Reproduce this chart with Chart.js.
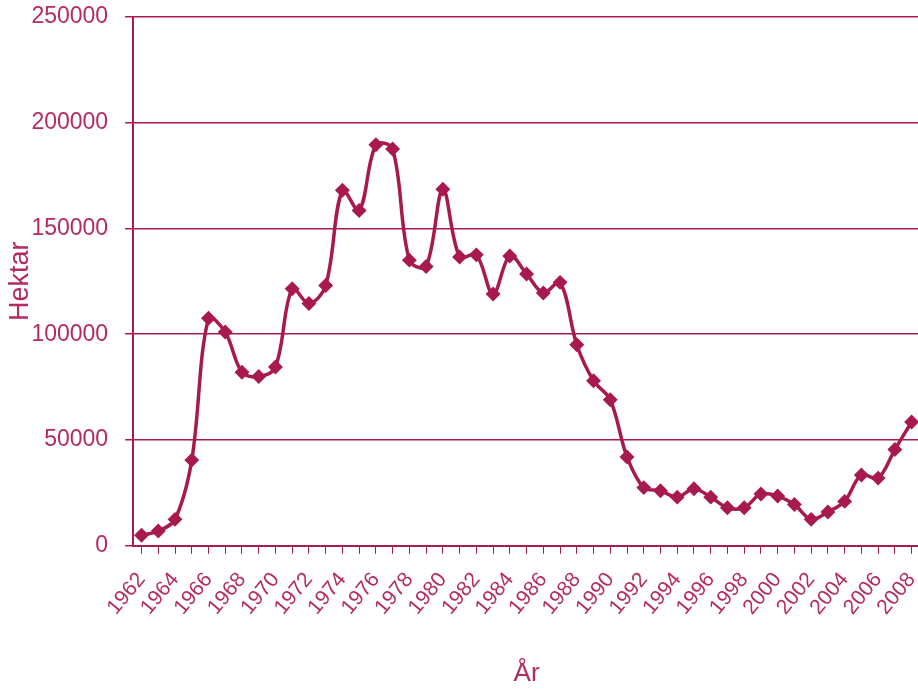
<!DOCTYPE html>
<html>
<head>
<meta charset="utf-8">
<script src="https://cdn.jsdelivr.net/npm/chart.js@4"></script>
<style>
    body { margin: 0; background: #fff; overflow: hidden; }
    #wrap { position: absolute; left: 0; top: -14px; width: 945px; height: 703px; }
</style>
</head>
<body>
<div id="wrap"><canvas id="chart-areal"></canvas></div>
<script>
//--------------------------- data ---------------------------
var years = [];
for (var y = 1962; y <= 2008; y++) years.push(String(y));

var hektar = [5000, 7000, 12500, 40500, 107500, 101000, 82000, 80000, 84500, 121500,
    114500, 123000, 168000, 158500, 189500, 187500, 135000, 132000, 168500, 136500,
    137500, 119000, 137000, 128500, 119500, 124500, 95000, 78000, 69000, 42000,
    27500, 26000, 23000, 27000, 23000, 18000, 18000, 24500, 23500, 19500,
    12500, 16000, 21000, 33500, 32000, 45500, 58500];

var yTicks = [0, 50000, 100000, 150000, 200000, 250000];

//--------------------------- chart ---------------------------
var lineColor = '#a81a4f';
var textColor = '#b42a62';

var ctx = document.getElementById('chart-areal').getContext('2d');
var chart_areal = new Chart(ctx, {
    type: 'line',
    data: {
        labels: years,
        datasets: [{
            label: 'Hektar',
            data: hektar,
            borderColor: lineColor,
            backgroundColor: lineColor,
            borderWidth: 3.5,
            tension: 0.35,
            pointStyle: 'rectRot',
            pointRadius: 5,
            fill: false
        }]
    },
    options: {
        responsive: true,
        maintainAspectRatio: false,
        animation: false,
        layout: { padding: { left: 2, top: -16, right: 0, bottom: 0 } },
        plugins: {
            legend: { display: false },
            tooltip: { enabled: false }
        },
        scales: {
            x: {
                offset: true,
                grid: {
                    drawOnChartArea: false,
                    color: lineColor,
                    tickLength: 8,
                    lineWidth: 1
                },
                border: { color: lineColor, width: 2 },
                ticks: {
                    autoSkip: false,
                    minRotation: 50,
                    maxRotation: 50,
                    color: textColor,
                    padding: 14,
                    font: { family: 'Liberation Sans', size: 21 },
                    callback: function (val, i) {
                        return i % 2 === 0 ? years[i] : '';
                    }
                },
                title: {
                    display: true,
                    text: 'År',
                    color: textColor,
                    padding: { top: 24, bottom: 0 },
                    font: { family: 'Liberation Sans', size: 26 }
                }
            },
            y: {
                min: 0,
                max: 250000,
                afterBuildTicks: function (axis) {
                    axis.ticks = yTicks.map(function (v) { return { value: v }; });
                },
                grid: {
                    color: lineColor,
                    lineWidth: 1.5,
                    tickLength: 8
                },
                border: { color: lineColor, width: 2 },
                ticks: {
                    color: textColor,
                    padding: 17,
                    font: { family: 'Liberation Sans', size: 23 },
                    callback: function (val) { return String(val); }
                },
                title: {
                    display: true,
                    text: 'Hektar',
                    color: textColor,
                    padding: { top: 2, bottom: -22 },
                    font: { family: 'Liberation Sans', size: 27 }
                }
            }
        }
    }
});
</script>
</body>
</html>
